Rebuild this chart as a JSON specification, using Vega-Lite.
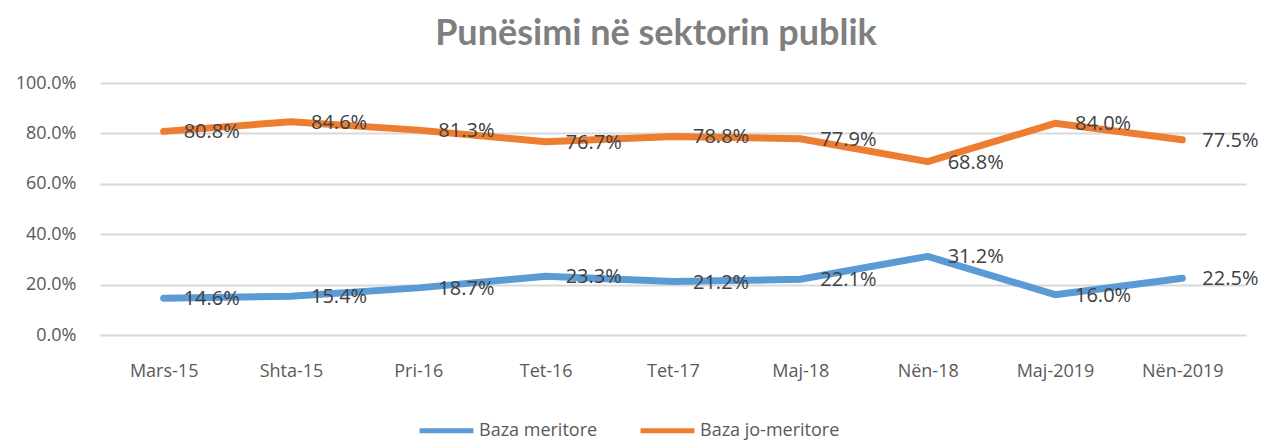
{
  "$schema": "https://vega.github.io/schema/vega-lite/v6.json",
  "width": 1146,
  "height": 252,
  "autosize": {"type": "none"},
  "padding": {"left": 100, "right": 16, "top": 83, "bottom": 108},
  "background": "white",
  "title": {
    "text": "Punësimi në sektorin publik",
    "font": "Lato",
    "fontSize": 36,
    "fontWeight": "bold",
    "color": "#7f7f7f",
    "anchor": "middle",
    "frame": "group",
    "dx": -17,
    "offset": 21
  },
  "config": {
    "view": {"stroke": null},
    "font": "Open Sans"
  },
  "data": {
    "values": [
      {"cat": "Mars-15", "series": "Baza meritore", "value": 0.146},
      {"cat": "Shta-15", "series": "Baza meritore", "value": 0.154},
      {"cat": "Pri-16", "series": "Baza meritore", "value": 0.187},
      {"cat": "Tet-16", "series": "Baza meritore", "value": 0.233},
      {"cat": "Tet-17", "series": "Baza meritore", "value": 0.212},
      {"cat": "Maj-18", "series": "Baza meritore", "value": 0.221},
      {"cat": "Nën-18", "series": "Baza meritore", "value": 0.312},
      {"cat": "Maj-2019", "series": "Baza meritore", "value": 0.160},
      {"cat": "Nën-2019", "series": "Baza meritore", "value": 0.225},
      {"cat": "Mars-15", "series": "Baza jo-meritore", "value": 0.808},
      {"cat": "Shta-15", "series": "Baza jo-meritore", "value": 0.846},
      {"cat": "Pri-16", "series": "Baza jo-meritore", "value": 0.813},
      {"cat": "Tet-16", "series": "Baza jo-meritore", "value": 0.767},
      {"cat": "Tet-17", "series": "Baza jo-meritore", "value": 0.788},
      {"cat": "Maj-18", "series": "Baza jo-meritore", "value": 0.779},
      {"cat": "Nën-18", "series": "Baza jo-meritore", "value": 0.688},
      {"cat": "Maj-2019", "series": "Baza jo-meritore", "value": 0.840},
      {"cat": "Nën-2019", "series": "Baza jo-meritore", "value": 0.775}
    ]
  },
  "encoding": {
    "x": {
      "field": "cat",
      "type": "nominal",
      "sort": null,
      "scale": {"paddingInner": 0, "paddingOuter": 0},
      "axis": {
        "title": null,
        "labelAngle": 0,
        "ticks": false,
        "domain": false,
        "labelFontSize": 18,
        "labelColor": "#595959",
        "labelPadding": 27
      }
    },
    "y": {
      "field": "value",
      "type": "quantitative",
      "scale": {"domain": [0, 1], "nice": false},
      "axis": {
        "title": null,
        "format": ".1%",
        "values": [0, 0.2, 0.4, 0.6, 0.8, 1.0],
        "labelOverlap": false,
        "ticks": false,
        "domain": false,
        "labelFontSize": 18,
        "labelColor": "#595959",
        "labelPadding": 24,
        "gridColor": "#d9d9d9",
        "gridWidth": 2
      }
    },
    "color": {
      "field": "series",
      "type": "nominal",
      "sort": ["Baza meritore", "Baza jo-meritore"],
      "scale": {"domain": ["Baza meritore", "Baza jo-meritore"], "range": ["#5b9bd5", "#ed7d31"]},
      "legend": {
        "title": null,
        "orient": "none",
        "legendX": 317,
        "legendY": 318,
        "direction": "horizontal",
        "symbolType": "stroke",
        "symbolStrokeWidth": 5,
        "symbolSize": 2900,
        "labelFontSize": 18,
        "labelColor": "#595959",
        "labelOffset": 3,
        "columnPadding": 32
      }
    }
  },
  "layer": [
    {
      "mark": {"type": "line", "strokeWidth": 7, "strokeCap": "round", "strokeJoin": "round"}
    },
    {
      "mark": {"type": "text", "align": "left", "baseline": "middle", "dx": 20, "dy": 1, "fontSize": 20, "color": "#404040"},
      "encoding": {
        "text": {"field": "value", "type": "quantitative", "format": ".1%"},
        "color": {"value": "#404040"}
      }
    }
  ]
}
